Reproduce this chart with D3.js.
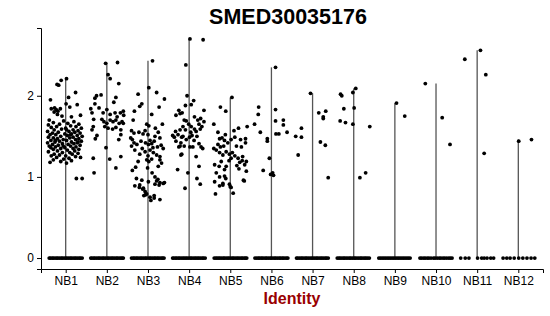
<!DOCTYPE html>
<html>
<head>
<meta charset="utf-8">
<script src="https://cdn.jsdelivr.net/npm/d3@7"></script>
<style>
  html, body { margin: 0; padding: 0; background: #fff; }
  svg { display: block; font-family: "Liberation Sans", Arial, sans-serif; }
</style>
</head>
<body>
<div id="chart"></div>
<script>
// identities on the x axis
var identities = ['NB1', 'NB2', 'NB3', 'NB4', 'NB5', 'NB6', 'NB7', 'NB8', 'NB9', 'NB10', 'NB11', 'NB12'];
var yTicks = [0, 1, 2];

// non-zero expression values per identity: [value, jitter offset in category units]
var nb1 = [[2.21,0.02],[2.19,-0.11],[2.14,-0.21],[2.13,-0.17],[2.04,0.24],[1.95,-0.37],[1.98,0.07],[1.90,0.01],[1.89,0.28],[1.86,0.10],[1.84,-0.35],[1.83,-0.23],[1.80,-0.28],[1.75,-0.09],[1.76,0.36],[1.77,-0.20],[1.74,0.14],[1.85,-0.27],[1.81,-0.19],[1.84,-0.13],[1.24,0.36],[0.98,0.26],[0.98,0.40],
  [1.70,-0.40],[1.69,-0.05],[1.68,0.20],[1.67,-0.30],[1.66,0.05],[1.65,-0.15],[1.65,0.32],[1.64,-0.42],[1.63,0.12],[1.62,-0.22],[1.62,0.25],[1.61,-0.35],[1.60,0.00],[1.60,0.38],[1.59,-0.10],[1.58,0.18],[1.58,-0.28],[1.57,0.30],[1.56,-0.44],[1.56,0.08],[1.55,-0.18],[1.55,0.22],[1.54,-0.32],[1.54,0.35],[1.53,-0.02],[1.53,0.14],[1.52,-0.38],[1.52,-0.24],[1.51,0.28],[1.51,0.04],[1.50,-0.12],[1.50,0.40],[1.49,-0.42],[1.49,0.18],[1.48,-0.30],[1.48,0.10],[1.47,-0.20],[1.47,0.32],[1.46,-0.06],[1.46,0.24],[1.45,-0.36],[1.45,0.02],[1.44,-0.15],[1.44,0.38],[1.43,-0.26],[1.43,0.14],[1.42,-0.44],[1.42,0.28],[1.41,-0.08],[1.41,0.20],[1.40,-0.32],[1.40,0.06],[1.39,-0.18],[1.39,0.35],[1.38,-0.40],[1.38,0.12],[1.37,-0.25],[1.37,0.25],[1.36,-0.02],[1.36,-0.36],[1.35,0.18],[1.35,-0.12],[1.34,0.32],[1.34,-0.30],[1.33,0.04],[1.32,-0.20],[1.32,0.22],[1.31,-0.42],[1.30,0.10],[1.30,-0.08],[1.29,0.30],[1.28,-0.28],[1.28,0.16],[1.27,-0.15],[1.26,0.00],[1.26,-0.35],[1.25,0.24],[1.24,-0.22],[1.23,0.08],[1.22,-0.05],[1.21,-0.30],[1.20,0.14],[1.19,-0.12],[1.18,-0.38],[1.17,0.02],[1.45,-0.25],[1.52,0.12],[1.38,-0.06],[1.58,0.02],[1.43,0.30]];
var nb2 = [[2.40,-0.03],[2.41,0.26],[2.26,0.03],[2.21,0.08],[2.15,0.29],[2.00,-0.25],[1.97,-0.29],[2.01,-0.14],[1.98,0.22],[1.90,-0.29],[1.92,0.17],[1.84,-0.39],[1.79,-0.36],[1.71,-0.32],[1.85,-0.19],[1.83,0.00],[1.79,-0.09],[1.77,0.08],[1.79,0.20],[1.74,0.25],[1.79,0.33],[1.81,0.40],[1.76,0.41],[1.71,-0.12],[1.68,-0.07],[1.66,0.00],[1.70,0.08],[1.68,0.15],[1.70,0.22],[1.62,-0.05],[1.60,0.03],[1.59,0.14],[1.61,0.22],[1.66,0.30],[1.68,0.37],[1.62,-0.33],[1.58,-0.36],[1.66,0.40],[1.51,-0.24],[1.47,-0.28],[1.58,0.34],[1.46,0.29],[1.52,0.34],[1.36,-0.02],[1.22,0.07],[1.23,-0.33],[1.25,0.34],[1.05,-0.31],[1.11,0.22]];
var nb3 = [[2.43,0.11],[2.10,0.02],[2.02,-0.24],[2.04,0.21],[1.96,0.40],[1.90,-0.15],[1.87,-0.20],[1.81,-0.33],[1.86,0.27],[1.77,0.09],[1.65,-0.03],[1.63,0.02],[1.65,0.35],[1.57,-0.40],[1.54,-0.34],[1.55,-0.22],[1.53,-0.12],[1.57,-0.07],[1.55,0.25],[1.50,0.17],[1.48,0.29],[1.46,-0.38],[1.42,-0.34],[1.40,-0.27],[1.44,-0.17],[1.42,-0.06],[1.40,0.01],[1.41,0.09],[1.44,0.15],[1.37,0.23],[1.39,0.32],[1.35,0.37],[1.33,-0.32],[1.35,-0.14],[1.31,-0.07],[1.33,0.05],[1.30,0.13],[1.27,0.21],[1.25,0.29],[1.19,-0.24],[1.21,-0.03],[1.19,0.02],[1.22,0.09],[1.21,0.29],[1.17,0.33],[1.13,0.25],[1.11,-0.01],[0.98,-0.28],[0.96,-0.15],[0.90,-0.20],[1.00,0.17],[0.97,0.24],[0.93,0.29],[0.93,0.40],[0.86,-0.11],[0.82,-0.07],[0.75,0.05],[0.74,0.15],[0.72,0.29],[0.78,-0.06],[0.89,-0.32],[0.87,-0.21],[0.85,-0.13],[0.79,-0.03],[0.77,-0.10],[0.71,0.07],[0.77,0.15],[0.91,0.17],[0.90,0.27],[0.92,0.37],[0.95,0.21],[0.94,0.01],
  [1.48,-0.42],[1.38,-0.40],[1.28,-0.20],[1.26,0.00],[1.36,0.12],[1.45,0.05],[1.52,0.00],[1.60,0.18],[1.70,-0.36],[1.12,-0.30],[1.05,0.10],[1.08,-0.38]];
var nb4 = [[2.70,0.02],[2.69,0.34],[2.38,-0.08],[2.00,-0.05],[1.88,-0.09],[1.89,0.05],[1.94,0.11],[1.82,-0.25],[1.79,-0.17],[1.82,0.36],[1.74,0.13],[1.70,0.21],[1.72,0.28],[1.68,0.36],[1.69,-0.07],[1.65,-0.01],[1.62,0.05],[1.62,-0.15],[1.58,-0.09],[1.65,0.24],[1.59,0.27],[1.59,0.13],[1.56,0.17],[1.56,-0.33],[1.52,-0.27],[1.49,-0.36],[1.44,-0.32],[1.51,-0.40],[1.50,-0.15],[1.46,-0.07],[1.49,0.01],[1.51,0.07],[1.42,-0.20],[1.38,-0.12],[1.37,-0.25],[1.37,0.02],[1.37,0.09],[1.37,0.29],[1.35,0.33],[1.50,0.19],[1.27,-0.20],[1.25,0.17],[1.09,-0.28],[1.05,-0.03],[1.13,0.24],[0.98,0.19],[0.91,0.27],[0.86,-0.10],[1.78,-0.22],[1.70,-0.12],[1.58,-0.22],[1.49,-0.18],[1.38,-0.22],[1.28,-0.18],[1.55,0.04],[1.45,0.12],[1.62,0.31],[1.41,0.24],[1.76,-0.32]];
var nb5 = [[1.98,0.04],[1.86,-0.24],[1.81,-0.11],[1.62,0.41],[1.57,0.09],[1.52,-0.12],[1.47,-0.26],[1.48,-0.20],[1.45,-0.14],[1.40,-0.30],[1.37,-0.24],[1.38,-0.16],[1.42,-0.06],[1.46,0.02],[1.49,0.11],[1.46,0.25],[1.47,0.37],[1.42,0.37],[1.38,0.15],[1.37,0.27],[1.33,-0.34],[1.30,-0.26],[1.27,-0.18],[1.31,-0.10],[1.28,-0.02],[1.30,0.05],[1.26,0.11],[1.23,0.02],[1.20,-0.03],[1.23,0.19],[1.18,0.23],[1.20,0.29],[1.15,0.35],[1.19,0.39],[1.15,-0.38],[1.13,-0.27],[1.19,-0.22],[1.13,-0.10],[1.09,-0.14],[1.14,0.16],[1.10,0.21],[1.07,0.39],[1.05,-0.34],[1.00,-0.26],[1.01,-0.14],[0.98,-0.11],[0.91,-0.02],[0.89,-0.26],[0.90,-0.18],[0.88,0.00],[0.80,0.07],[0.79,-0.36],[0.96,0.32],[0.94,-0.38],[0.92,-0.18],[0.87,0.02],[0.95,0.34],[1.35,-0.40],[1.25,0.30],[1.55,-0.30],[1.60,0.20],[1.65,-0.40]];
var nb6 = [[2.35,0.10],[1.86,-0.31],[1.77,-0.32],[1.65,-0.41],[1.83,0.10],[1.69,0.10],[1.70,0.29],[1.64,0.29],[1.55,0.38],[1.53,0.18],[1.53,0.11],[1.55,-0.27],[1.47,-0.10],[1.44,-0.10],[1.23,-0.05],[1.08,-0.20],[1.03,-0.02],[1.05,0.03],[1.02,0.05]];
var nb7 = [[2.03,-0.05],[1.79,0.15],[1.81,0.32],[1.74,0.26],[1.72,0.26],[1.43,0.19],[1.39,0.31],[0.99,0.38],[1.50,-0.41],[1.60,-0.27],[1.49,-0.27],[1.27,-0.35]];
var nb8 = [[2.09,0.05],[2.04,-0.02],[2.02,-0.32],[2.00,-0.29],[1.84,-0.24],[1.85,0.01],[1.69,-0.33],[1.67,-0.20],[1.65,-0.02],[1.62,0.39],[0.99,0.15],[1.05,0.29]];
var nb9 = [[1.91,0.04],[1.75,0.24]];
var nb10 = [[2.15,-0.26],[1.73,0.15],[1.40,0.34]];
var nb11 = [[2.56,0.08],[2.45,-0.30],[2.26,0.21],[1.29,0.17]];
var nb12 = [[1.44,0.01],[1.46,0.32]];

// jitter offsets of the cells with zero expression
var zero1 = [-0.40,-0.37,-0.33,-0.30,-0.26,-0.22,-0.19,-0.15,-0.11,-0.08,-0.04,0.00,0.03,0.07,0.11,0.14,0.18,0.22,0.25,0.29,0.33,0.36,0.40];
var zero2 = [-0.39,-0.36,-0.32,-0.29,-0.25,-0.21,-0.18,-0.14,-0.10,-0.07,-0.03,0.01,0.04,0.08,0.12,0.15,0.19,0.23,0.26,0.30,0.34,0.37,0.40];
var zero3 = [-0.40,-0.36,-0.33,-0.29,-0.26,-0.22,-0.18,-0.15,-0.11,-0.07,-0.04,0.00,0.04,0.07,0.11,0.15,0.18,0.22,0.25,0.29,0.33,0.36,0.39];
var zero4 = [-0.40,-0.37,-0.33,-0.30,-0.26,-0.23,-0.19,-0.15,-0.12,-0.08,-0.05,-0.01,0.03,0.06,0.10,0.14,0.17,0.21,0.24,0.28,0.32,0.35,0.39];
var zero5 = [-0.39,-0.35,-0.32,-0.28,-0.25,-0.21,-0.17,-0.14,-0.10,-0.06,-0.03,0.01,0.05,0.08,0.12,0.16,0.19,0.23,0.27,0.30,0.34,0.37,0.40];
var zero6 = [-0.40,-0.36,-0.32,-0.29,-0.25,-0.22,-0.18,-0.14,-0.11,-0.07,-0.03,0.00,0.04,0.08,0.11,0.15,0.19,0.22,0.26,0.29,0.33,0.37,0.40];
var zero7 = [-0.39,-0.36,-0.32,-0.28,-0.25,-0.21,-0.17,-0.14,-0.10,-0.06,-0.02,0.01,0.05,0.09,0.12,0.16,0.20,0.23,0.27,0.31,0.34,0.38];
var zero8 = [-0.40,-0.36,-0.33,-0.29,-0.25,-0.22,-0.18,-0.14,-0.10,-0.07,-0.03,0.01,0.04,0.08,0.12,0.16,0.19,0.23,0.27,0.30,0.34,0.38];
var zero9 = [-0.39,-0.35,-0.31,-0.27,-0.23,-0.19,-0.15,-0.11,-0.07,-0.03,0.01,0.05,0.09,0.13,0.17,0.21,0.25,0.29,0.33,0.37];
var zero10 = [-0.39,-0.35,-0.30,-0.26,-0.21,-0.17,-0.12,-0.06,-0.02,0.03,0.08,0.12,0.17,0.21,0.26,0.31,0.35,0.39];
var zero11 = [-0.40,-0.29,-0.20,0.01,0.11,0.17,0.24,0.33,0.40];
var zero12 = [-0.37,-0.28,-0.20,-0.10,0.01,0.11,0.21,0.31,0.40];

var nonZero = [nb1, nb2, nb3, nb4, nb5, nb6, nb7, nb8, nb9, nb10, nb11, nb12];
var zeros = [zero1, zero2, zero3, zero4, zero5, zero6, zero7, zero8, zero9, zero10, zero11, zero12];

var width = 550, height = 316;
var margin = { top: 28, right: 7, bottom: 47, left: 41 };
var iw = width - margin.left - margin.right;
var ih = height - margin.top - margin.bottom;

var svg = d3.select('#chart').append('svg').attr('width', width).attr('height', height);
svg.append('rect').attr('width', width).attr('height', height).attr('fill', '#fff');
var g = svg.append('g').attr('transform', 'translate(' + margin.left + ',' + margin.top + ')');

var x = d3.scalePoint().domain(identities).range([0, iw]).padding(0.6);
var step = x.step();
var yMax = d3.max(nonZero, function (arr) { return d3.max(arr, function (d) { return d[0]; }); });
var pad = yMax * 0.05;
var y = d3.scaleLinear().domain([-pad, yMax + pad]).range([ih, 0]);

// flatten into points
var points = [];
identities.forEach(function (id, i) {
  zeros[i].forEach(function (j) { points.push({ id: id, v: 0, j: j }); });
  nonZero[i].forEach(function (d) { points.push({ id: id, v: d[0], j: d[1] }); });
});

// violins are so narrow they collapse to a line from 0 to the group max
g.selectAll('line.violin').data(identities).enter().append('line')
  .attr('class', 'violin')
  .attr('x1', function (d) { return x(d); })
  .attr('x2', function (d) { return x(d); })
  .attr('y1', y(0))
  .attr('y2', function (d, i) { return y(d3.max(nonZero[i], function (p) { return p[0]; })); })
  .attr('stroke', '#555').attr('stroke-width', 1.3);

g.selectAll('circle').data(points).enter().append('circle')
  .attr('cx', function (d) { return x(d.id) + d.j * step; })
  .attr('cy', function (d) { return y(d.v); })
  .attr('r', 1.9)
  .attr('fill', '#000');

var xAxis = g.append('g').attr('transform', 'translate(0,' + ih + ')')
  .call(d3.axisBottom(x).tickSizeOuter(0).tickSize(4).tickPadding(3));
var yAxis = g.append('g')
  .call(d3.axisLeft(y).tickValues(yTicks).tickFormat(d3.format('d')).tickSizeOuter(0).tickSize(4).tickPadding(3));
[xAxis, yAxis].forEach(function (ax) {
  ax.select('.domain').attr('stroke', '#000').attr('stroke-width', 1);
  ax.selectAll('.tick line').attr('stroke', '#000');
  ax.selectAll('text').attr('fill', '#000').attr('font-size', 12)
    .attr('font-family', '"Liberation Sans", Arial, sans-serif');
});

svg.append('text').attr('x', 288).attr('y', 24)
  .attr('text-anchor', 'middle').attr('font-size', 21.5).attr('font-weight', 'bold')
  .text('SMED30035176');

svg.append('text').attr('x', margin.left + iw / 2).attr('y', 304)
  .attr('text-anchor', 'middle').attr('font-size', 16).attr('font-weight', 'bold')
  .attr('fill', '#990000')
  .text('Identity');
</script>
</body>
</html>
